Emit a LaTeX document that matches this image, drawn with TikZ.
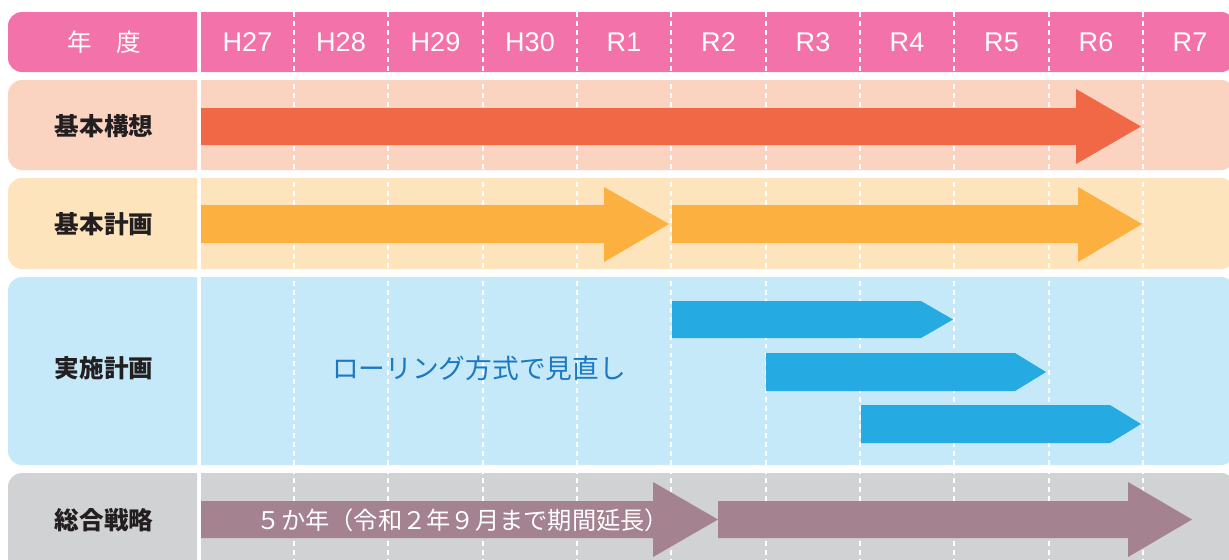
\documentclass[tikz,border=0pt]{standalone}
\usepackage{fontspec}
\setmainfont{Liberation Sans}
\newfontfamily\jpfont{Noto Sans CJK JP}

\definecolor{hdrpink}{HTML}{F272A9}
\definecolor{kousoubg}{HTML}{FBD3C1}
\definecolor{kousoufg}{HTML}{F06846}
\definecolor{keikakubg}{HTML}{FDE4BC}
\definecolor{keikakufg}{HTML}{FBB040}
\definecolor{jisshibg}{HTML}{C5E9F8}
\definecolor{jisshifg}{HTML}{25AAE1}
\definecolor{jisshitxt}{HTML}{1B78C2}
\definecolor{senryakubg}{HTML}{D1D2D4}
\definecolor{senryakufg}{HTML}{A4828F}
\definecolor{labelgray}{HTML}{231F20}

\begin{document}
\begin{tikzpicture}[x=0.02cm,y=-0.02cm,
	yearline/.style={white, line width=0.6pt, dash pattern=on 2.8pt off 2.3pt},
	yearlabel/.style={text=white, font=\fontsize{15.4}{17}\selectfont},
	rowlabel/.style={text=labelgray, font=\jpfont\bfseries\fontsize{14}{16}\selectfont}]
	\useasboundingbox (0,0) rectangle (1229,559);

	% header
	\fill[hdrpink] (197,12) [rounded corners=0.28cm] -- (8,12) -- (8,72) [sharp corners] -- (197,72) -- cycle;
	\fill[hdrpink] (201,12) [rounded corners=0.28cm] -- (1235,12) -- (1235,72) [sharp corners] -- (201,72) -- cycle;

	% rows
	\fill[kousoubg] (197,80) [rounded corners=0.28cm] -- (8,80) -- (8,170) [sharp corners] -- (197,170) -- cycle;
	\fill[kousoubg] (201,80) [rounded corners=0.28cm] -- (1235,80) -- (1235,170) [sharp corners] -- (201,170) -- cycle;
	\fill[keikakubg] (197,178) [rounded corners=0.28cm] -- (8,178) -- (8,269) [sharp corners] -- (197,269) -- cycle;
	\fill[keikakubg] (201,178) [rounded corners=0.28cm] -- (1235,178) -- (1235,269) [sharp corners] -- (201,269) -- cycle;
	\fill[jisshibg] (197,277) [rounded corners=0.28cm] -- (8,277) -- (8,465) [sharp corners] -- (197,465) -- cycle;
	\fill[jisshibg] (201,277) [rounded corners=0.28cm] -- (1235,277) -- (1235,465) [sharp corners] -- (201,465) -- cycle;
	\fill[senryakubg] (197,473) [rounded corners=0.28cm] -- (8,473) -- (8,600) [sharp corners] -- (197,600) -- cycle;
	\fill[senryakubg] (201,473) [rounded corners=0.28cm] -- (1235,473) -- (1235,600) [sharp corners] -- (201,600) -- cycle;

	% year lines
	\draw[yearline] (294,12) -- (294,559);
	\draw[yearline] (388,12) -- (388,559);
	\draw[yearline] (483,12) -- (483,559);
	\draw[yearline] (577,12) -- (577,559);
	\draw[yearline] (671,12) -- (671,559);
	\draw[yearline] (766,12) -- (766,559);
	\draw[yearline] (860,12) -- (860,559);
	\draw[yearline] (954,12) -- (954,559);
	\draw[yearline] (1049,12) -- (1049,559);
	\draw[yearline] (1143,12) -- (1143,559);

	% arrows
	\fill[kousoufg] (201,108) -- (1076,108) -- (1076,89) -- (1141,126.5) -- (1076,164) -- (1076,145) -- (201,145) -- cycle;
	\fill[keikakufg] (201,205) -- (604,205) -- (604,187) -- (669,224) -- (604,262) -- (604,243) -- (201,243) -- cycle;
	\fill[keikakufg] (672,205) -- (1078,205) -- (1078,187) -- (1142,224) -- (1078,262) -- (1078,243) -- (672,243) -- cycle;
	\fill[jisshifg] (672,301) -- (921,301) -- (953,319.5) -- (921,338) -- (672,338) -- cycle;
	\fill[jisshifg] (766,353) -- (1015,353) -- (1046,372) -- (1015,391) -- (766,391) -- cycle;
	\fill[jisshifg] (861,405) -- (1110,405) -- (1141,424) -- (1110,443) -- (861,443) -- cycle;
	\fill[senryakufg] (201,501) -- (653,501) -- (653,482) -- (718,519.5) -- (653,557) -- (653,538) -- (201,538) -- cycle;
	\fill[senryakufg] (718,501) -- (1128,501) -- (1128,482) -- (1192,519.5) -- (1128,557) -- (1128,538) -- (718,538) -- cycle;

	% labels
	\node[text=white, font=\jpfont\fontsize{14}{16}\selectfont] (nendo) at (104,42) {年　度};
	\node[yearlabel] (H27) at (247.5,42) {H27};
	\node[yearlabel] (H28) at (341,42) {H28};
	\node[yearlabel] (H29) at (435.5,42) {H29};
	\node[yearlabel] (H30) at (530,42) {H30};
	\node[yearlabel] (R1) at (624,42) {R1};
	\node[yearlabel] (R2) at (718.5,42) {R2};
	\node[yearlabel] (R3) at (813,42) {R3};
	\node[yearlabel] (R4) at (907,42) {R4};
	\node[yearlabel] (R5) at (1001.5,42) {R5};
	\node[yearlabel] (R6) at (1096,42) {R6};
	\node[yearlabel] (R7) at (1190,42) {R7};

	\node[rowlabel] (kousou) at (104,126) {基本構想};
	\node[rowlabel] (keikaku) at (104,224) {基本計画};
	\node[rowlabel] (jisshi) at (104,368) {実施計画};
	\node[rowlabel] (senryaku) at (104,520) {総合戦略};

	\node[text=jisshitxt, font=\jpfont\fontsize{15.2}{17}\selectfont] (rolling) at (479,368) {ローリング方式で見直し};
	\node[text=white, font=\jpfont\fontsize{13.8}{15}\selectfont] (gokanen) at (463,520) {５か年（令和２年９月まで期間延長）};

\end{tikzpicture}
\end{document}
